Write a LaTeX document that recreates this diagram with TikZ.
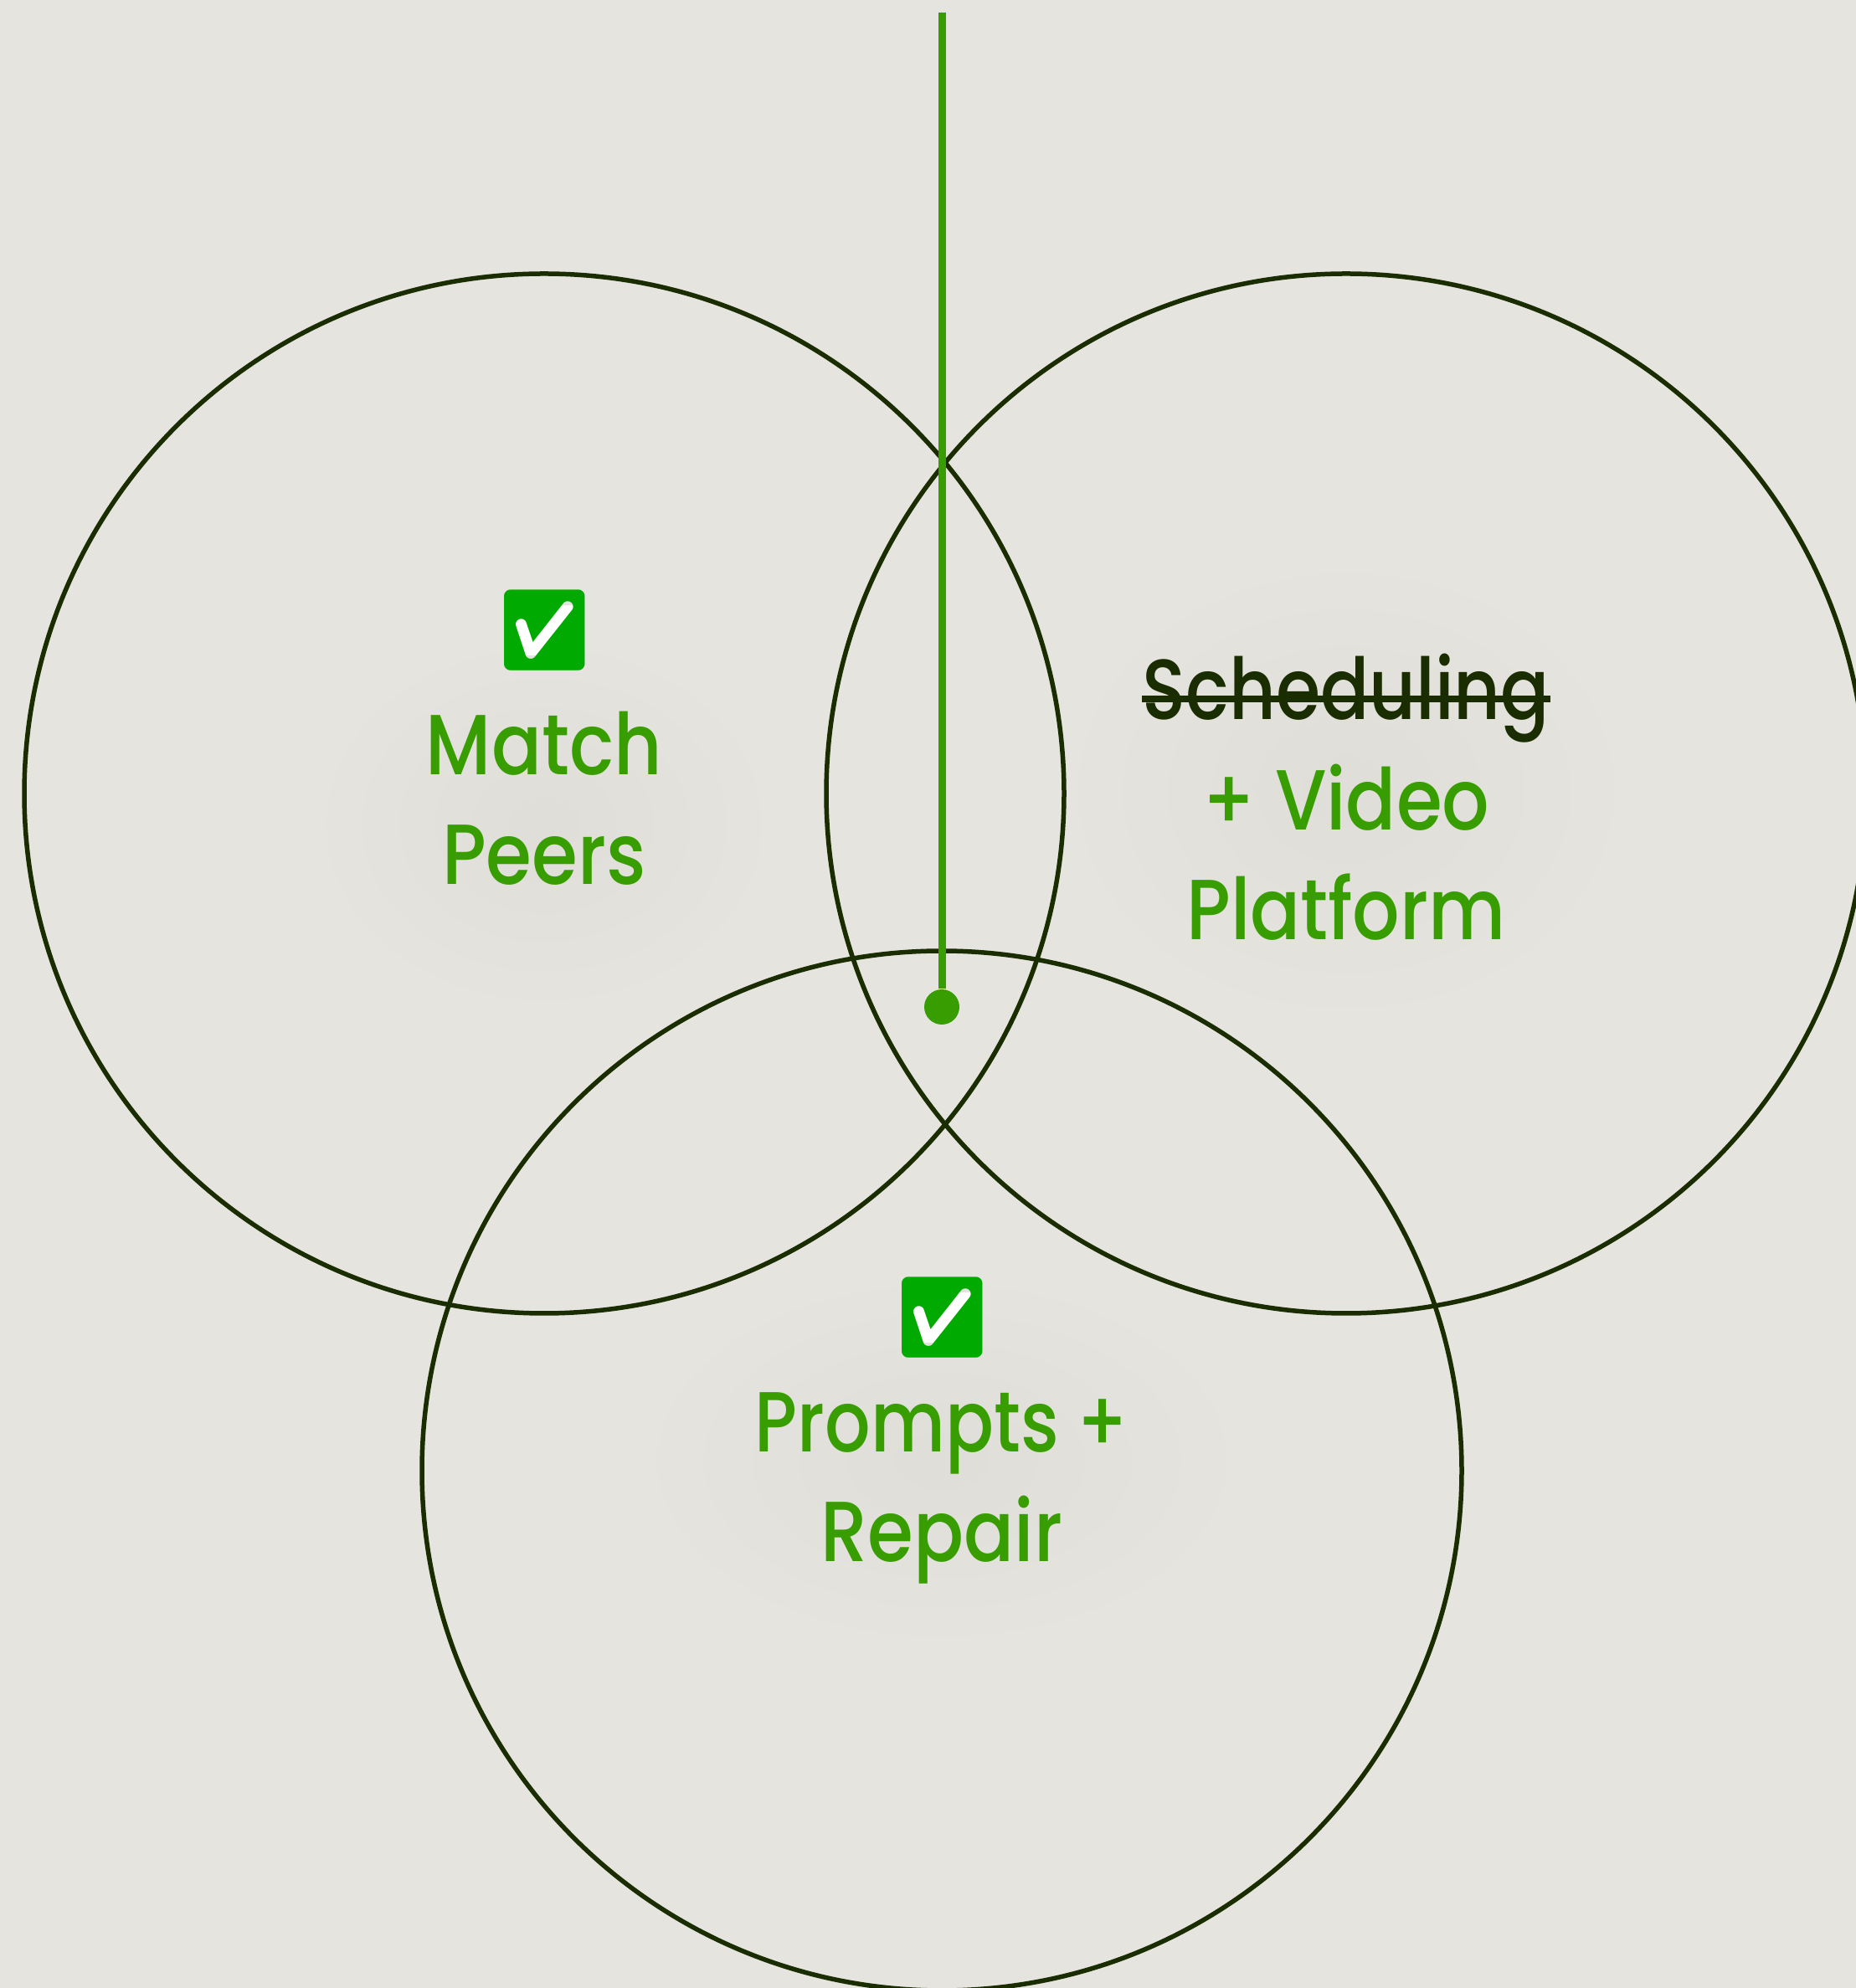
\documentclass[tikz,border=0pt]{standalone}
\usepackage{fontspec}
\usetikzlibrary{fadings}
\setmainfont[FakeStretch=0.87]{Poppins Medium}
\newfontfamily\tickfont{Noto Emoji}
\definecolor{paper}{HTML}{E5E4DF}
\definecolor{glow}{HTML}{DFDED9}
\definecolor{ring}{HTML}{1A2D00}
\definecolor{leaf}{HTML}{389D00}
\definecolor{tickbox}{HTML}{00AA00}
\tikzfading[name=haze, inner color=transparent!0, outer color=transparent!100]
\tikzset{
  ring/.style={draw=ring, line width=0.55mm, circle, minimum size=12.42cm, inner sep=0pt, outer sep=0pt},
  label/.style={anchor=base, inner sep=0pt, text=leaf, font=\fontsize{29}{35}\selectfont},
  tick/.style={fill=white, inner sep=-0.18cm, text=tickbox, font=\tickfont\fontsize{27}{27}\selectfont},
  halo/.style={fill=glow, path fading=haze},
}
\begin{document}
\begin{tikzpicture}
    \clip (0, 0) rectangle (22.17, 23.75);
    \fill[paper] (0, 0) rectangle (22.17, 23.75);

    \fill[halo] (6.5, 13.9) ellipse (2.6 and 2.1);
    \fill[halo] (16.08, 14.3) ellipse (3.2 and 2.6);
    \fill[halo] (11.25, 6.3) ellipse (3.4 and 2.1);

    \node[ring] (matchring) at (6.5, 14.27) {};
    \node[ring] (videoring) at (16.08, 14.27) {};
    \node[ring] (promptring) at (11.25, 6.18) {};

    \node[tick] (matchtick) at (6.51, 16.22) {✅};
    \node[label] (match) at (6.5, 14.49) {Match};
    \node[label] (peers) at (6.5, 13.18) {Peers};

    \node[label, text=ring] (sched) at (16.08, 15.15) {\scalebox{0.97}[1]{Scheduling}};
    \node[label] (video) at (16.08, 13.83) {+ Video};
    \node[label] (platform) at (16.08, 12.52) {Platform};
    \draw[draw=ring, line width=0.8mm] (sched.west |- 0, 15.4) -- (sched.east |- 0, 15.4);

    \node[tick] (prompttick) at (11.26, 8.01) {✅};
    \node[label] (prompts) at (11.25, 6.4) {\scalebox{0.965}[1]{Prompts +}};
    \node[label] (repair) at (11.25, 5.09) {Repair};

    \node[circle, fill=leaf, minimum size=0.42cm, inner sep=0pt] (dot) at (11.25, 11.72) {};
    \coordinate (top) at (11.25, 23.6);
    \draw[leaf, line width=0.9mm] (top) -- (dot);
\end{tikzpicture}
\end{document}
